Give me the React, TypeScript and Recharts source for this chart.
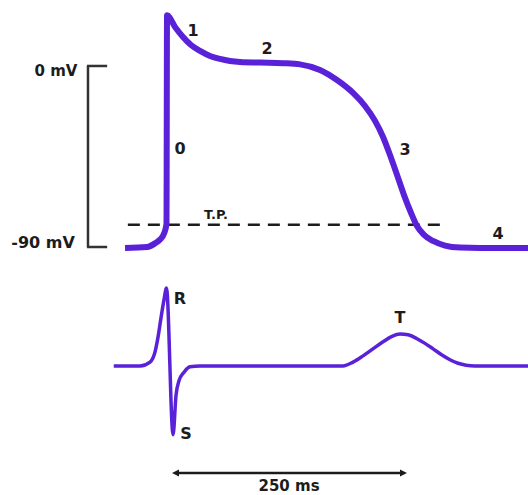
import { LineChart, Line, XAxis, YAxis, ReferenceLine, ReferenceDot } from 'recharts';

// time in ms (0 = start of the 250 ms arrow), voltage in mV
const apTime = [-50, -26.6, -18.1, -12.8, -8.5, -5.9, -5.3, 3.2, 11.7, 20.2, 29.8, 40.4, 51.1, 61.7, 72.3, 93.6, 118.1, 136.2, 157.4, 175.5, 192.6, 205.3, 216.0, 224.5, 231.9, 239.4, 246.8, 254.3, 260.6, 268.1, 277.7, 290.4, 306.4, 327.7, 378.7];
const apMv = [-90.5, -90, -88.2, -86.3, -83.3, -78.6, 25.2, 19.4, 14.4, 10.4, 7.5, 5.0, 3.5, 2.5, 2.0, 1.7, 1.4, 0.8, -2.0, -7.0, -13.4, -19.9, -27.3, -35.3, -44.3, -54.2, -64.2, -73.1, -79.6, -84.0, -87.0, -89.3, -90.3, -90.5, -90.5];

const ecgTime = [-62, -48, -34, -23.4, -18.1, -14.9, -11.7, -8.5, -5.9, 1.1, 4.3, 7.4, 12.8, 19.1, 29.8, 181.9, 192.6, 203.2, 213.8, 224.5, 234.0, 242.6, 251.1, 260.6, 269.1, 277.7, 287.2, 295.7, 304.3, 312.8, 322.3, 378.7];
const ecgMv = [0, 0, 0, 0.05, 0.18, 0.37, 0.62, 0.85, 1.0, -0.88, -0.37, -0.19, -0.08, -0.01, 0, 0, 0.05, 0.13, 0.22, 0.31, 0.38, 0.41, 0.40, 0.35, 0.29, 0.22, 0.14, 0.08, 0.035, 0.01, 0, 0];

const restingMv = -90;
const thresholdMv = -79; // T.P.
const intervalMs = [0, 250];

const apData = apTime.map((t, i) => ({ t, mv: apMv[i] }));
const ecgData = ecgTime.map((t, i) => ({ t, mv: ecgMv[i] }));

const PURPLE = '#5a22d8';
const INK = '#1c1c1c';
const font = { fontFamily: 'DejaVu Sans', fontWeight: 700, fill: INK };

function tag(text: string, x: number, y: number, axis: string, size = 16) {
  return (
    <ReferenceDot
      key={text + axis}
      x={x}
      y={y}
      yAxisId={axis}
      r={0}
      fill="none"
      stroke="none"
      label={{ value: text, position: 'center', fontSize: size, ...font }}
    />
  );
}

function DoubleArrow(p: any) {
  const { x1, y1, x2, y2 } = p;
  const h = 7;
  const w = 3.5;
  return (
    <g>
      <line x1={x1 + 4} y1={y1} x2={x2 - 4} y2={y2} stroke={INK} strokeWidth={2.5} />
      <polygon points={`${x1},${y1} ${x1 + h},${y1 - w} ${x1 + h},${y1 + w}`} fill={INK} />
      <polygon points={`${x2},${y2} ${x2 - h},${y2 - w} ${x2 - h},${y2 + w}`} fill={INK} />
    </g>
  );
}

export default function App() {
  return (
    <div style={{ position: 'absolute', left: 0, top: 0, background: '#fff' }}>
      <LineChart width={528} height={495} margin={{ top: 0, right: 0, bottom: 0, left: 0 }}>
        <XAxis type="number" dataKey="t" domain={[-183, 378.7]} hide allowDataOverflow />
        <YAxis yAxisId="ap" type="number" domain={[-213.3, 32.8]} hide allowDataOverflow />
        <YAxis yAxisId="ecg" type="number" domain={[-1.654, 4.692]} hide allowDataOverflow />

        {/* mV scale bracket */}
        <ReferenceLine yAxisId="ap" segment={[{ x: -89.4, y: 0 }, { x: -89.4, y: restingMv }]} stroke="#333" strokeWidth={2.5} />
        <ReferenceLine yAxisId="ap" segment={[{ x: -90.5, y: 0 }, { x: -69, y: 0 }]} stroke="#333" strokeWidth={2.5} />
        <ReferenceLine yAxisId="ap" segment={[{ x: -90.5, y: restingMv }, { x: -69, y: restingMv }]} stroke="#333" strokeWidth={2.5} />

        {/* threshold potential */}
        <ReferenceLine
          yAxisId="ap"
          segment={[{ x: -47, y: thresholdMv }, { x: 291.5, y: thresholdMv }]}
          stroke={INK}
          strokeWidth={2.5}
          strokeDasharray="12 8"
        />

        <Line
          yAxisId="ap"
          data={apData}
          dataKey="mv"
          type="monotone"
          stroke={PURPLE}
          strokeWidth={6}
          strokeLinejoin="round"
          dot={false}
          activeDot={false}
          isAnimationActive={false}
        />
        <Line
          yAxisId="ecg"
          data={ecgData}
          dataKey="mv"
          type="monotone"
          stroke={PURPLE}
          strokeWidth={3.5}
          strokeLinejoin="round"
          dot={false}
          activeDot={false}
          isAnimationActive={false}
        />

        <ReferenceLine
          yAxisId="ecg"
          segment={[{ x: intervalMs[0], y: -1.372 }, { x: intervalMs[1], y: -1.372 }]}
          shape={DoubleArrow}
        />

        {tag('0 mV', -123.4, -2.5, 'ap', 15)}
        {tag('-90 mV', -137.2, -87.5, 'ap', 16)}
        {tag('0', 8.5, -40.8, 'ap')}
        {tag('1', 22.3, 17.9, 'ap')}
        {tag('2', 101.1, 9.0, 'ap')}
        {tag('3', 247.9, -41.3, 'ap')}
        {tag('4', 346.8, -83, 'ap')}
        {tag('T.P.', 46.8, -73.6, 'ap', 13)}
        {tag('R', 8.5, 0.87, 'ecg')}
        {tag('S', 14.9, -0.86, 'ecg')}
        {tag('T', 242.6, 0.62, 'ecg')}
        {tag('250 ms', 124.5, -1.54, 'ecg', 15)}
      </LineChart>
    </div>
  );
}
